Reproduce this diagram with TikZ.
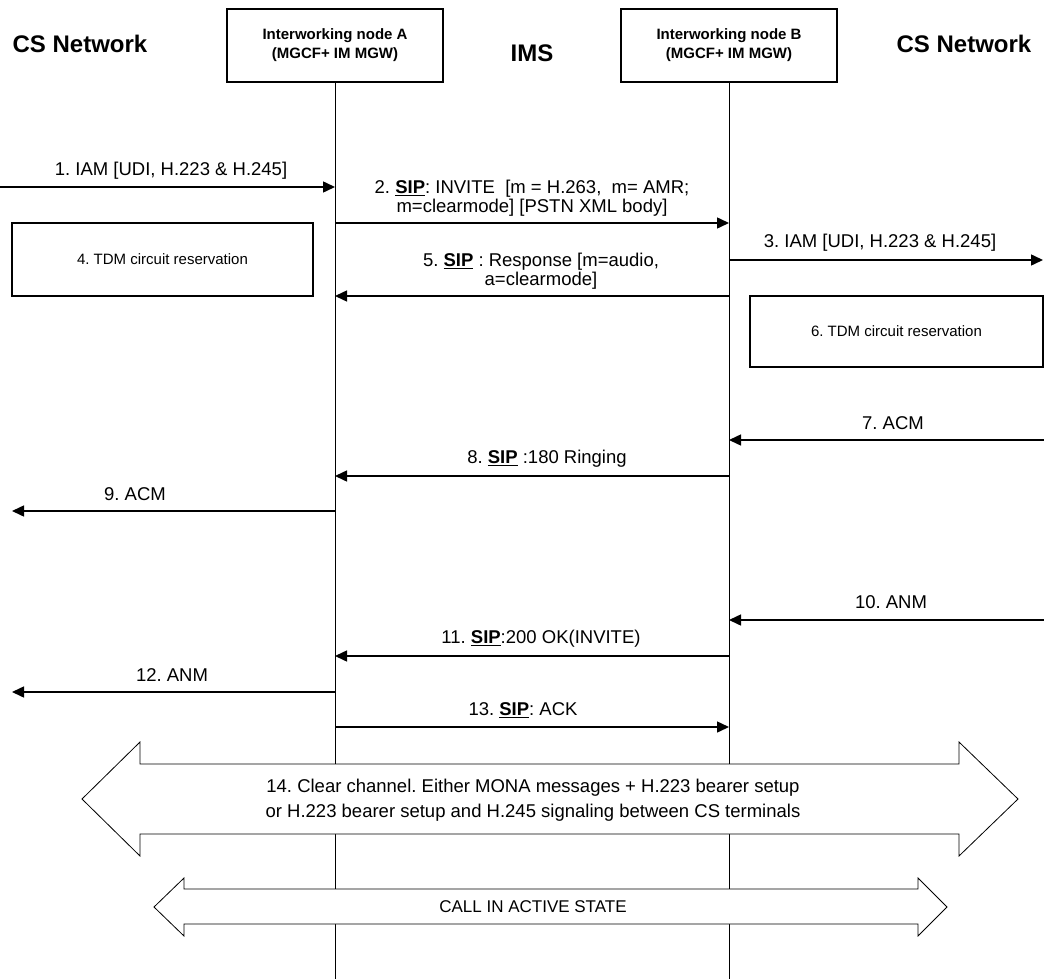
\documentclass[tikz,border=0pt]{standalone}
\usepackage{fontspec}
\setmainfont{Liberation Sans}
\usetikzlibrary{arrows.meta,positioning,calc}
\frenchspacing

\begin{document}
\begin{tikzpicture}[x=1pt,y=-1pt,
    entity/.style={draw,line width=1.2pt,minimum width=216pt,minimum height=73pt,align=center,
      font=\fontsize{15}{19}\selectfont\bfseries},
    network title/.style={font=\fontsize{24}{28}\selectfont\bfseries},
    lifeline/.style={line width=1pt},
    msg/.style={line width=1.5pt,-{Triangle[length=12pt,width=11pt]}},
    msg label/.style={font=\fontsize{18.5}{19}\selectfont,align=center,inner sep=0pt},
    reserve/.style={draw,line width=1.2pt,font=\fontsize{15}{18}\selectfont},
    fat arrow/.style={draw,line width=0.8pt,fill=white}
  ]
\useasboundingbox (0,0) rectangle (1044,979);

% networks and interworking nodes
\node[network title] (csA) at (80,44) {CS Network};
\node[network title] (ims) at (532,53) {IMS};
\node[network title] (csB) at (964,44) {CS Network};
\node[entity] (boxA) at (335,45.5) {Interworking node A\\(MGCF+ IM MGW)};
\node[entity] (boxB) at (729,45.5) {Interworking node B\\(MGCF+ IM MGW)};

\coordinate (endA) at (boxA.south |- 0,979);
\coordinate (endB) at (boxB.south |- 0,979);
\draw[lifeline] (boxA.south) -- (endA);
\draw[lifeline] (boxB.south) -- (endB);

% points on the life lines
\foreach \n/\y in {1/187,2/223,3/260,5/296,7/440,8/476,9/511,10/620,11/656,12/692,13/727}{
  \coordinate (a\n) at (boxA.south |- 0,\y);
  \coordinate (b\n) at (boxB.south |- 0,\y);
}
% free ends in the CS networks
\coordinate (in1) at (0,187);
\coordinate (out3) at (1043,260);
\coordinate (in7) at (1044,440);
\coordinate (out9) at (12,511);
\coordinate (in10) at (1044,620);
\coordinate (out12) at (12,692);

% call setup
\draw[msg] (in1) -- (a1);
\node[msg label] (l1) at (171,171) {1. IAM [UDI, H.223 \& H.245]};
\draw[msg] (a2) -- (b2);
\node[msg label] (l2) at (532,198) {2. \underline{\textbf{SIP}}: INVITE\ \ [m = H.263,\ \ m= AMR;\\m=clearmode] [PSTN XML body]};
\draw[msg] (b3) -- (out3);
\node[msg label] (l3) at (880,243) {3. IAM [UDI, H.223 \& H.245]};
\node[reserve,minimum width=301pt,minimum height=73pt] (res4) at (162.5,259.5) {4. TDM circuit reservation};
\draw[msg] (b5) -- (a5);
\node[msg label] (l5) at (541,271) {5. \underline{\textbf{SIP}} : Response [m=audio,\\a=clearmode]};
\node[reserve,minimum width=293pt,minimum height=71pt] (res6) at (896.5,331.5) {6. TDM circuit reservation};

% alerting
\draw[msg] (in7) -- (b7);
\node[msg label] (l7) at (893,423) {7. ACM};
\draw[msg] (b8) -- (a8);
\node[msg label] (l8) at (547,459) {8. \underline{\textbf{SIP}} :180 Ringing};
\draw[msg] (a9) -- (out9);
\node[msg label] (l9) at (135,494) {9. ACM};

% answer
\draw[msg] (in10) -- (b10);
\node[msg label] (l10) at (891,602) {10. ANM};
\draw[msg] (b11) -- (a11);
\node[msg label] (l11) at (541,639) {11. \underline{\textbf{SIP}}:200 OK(INVITE)};
\draw[msg] (a12) -- (out12);
\node[msg label] (l12) at (172,675) {12. ANM};
\draw[msg] (a13) -- (b13);
\node[msg label] (l13) at (523,710) {13. \underline{\textbf{SIP}}: ACK};

% bearer
\draw[fat arrow] (82,799) -- (140,742) -- (140,764) -- (959,764) -- (959,742) -- (1018,799)
  -- (959,856) -- (959,834) -- (140,834) -- (140,856) -- cycle;
\node[msg label,font=\fontsize{18.5}{25}\selectfont] (l14) at (533,800)
  {14. Clear channel. Either MONA messages + H.223 bearer setup\\or H.223 bearer setup and H.245 signaling between CS terminals};
\draw[fat arrow] (154,907) -- (184,878) -- (184,889) -- (918,889) -- (918,878) -- (947,907)
  -- (918,936) -- (918,924) -- (184,924) -- (184,936) -- cycle;
\node[msg label,font=\fontsize{17}{20}\selectfont] (active) at (533,907) {CALL IN ACTIVE STATE};
\end{tikzpicture}
\end{document}
